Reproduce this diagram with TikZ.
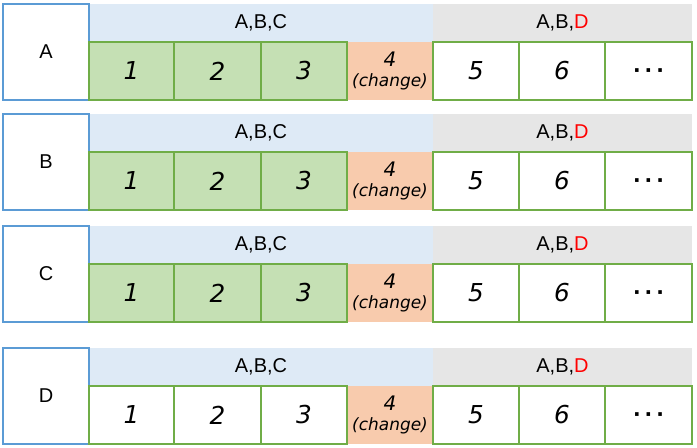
\documentclass[tikz,border=0pt]{standalone}
\usepackage{fontspec}
\setmainfont{Liberation Sans}
\newfontfamily\handfont{DejaVu Sans}
\definecolor{hblue}{HTML}{DEEAF6}
\definecolor{hgrey}{HTML}{E6E6E6}
\definecolor{cgreen}{HTML}{C5E0B4}
\definecolor{corange}{HTML}{F8CBAD}
\definecolor{bgreen}{HTML}{70AD47}
\definecolor{bblue}{HTML}{5B9BD5}
\newcommand\mydots{\vphantom{5}\smash{\raisebox{2pt}{\handfont\upshape\bfseries\fontsize{15}{18}\selectfont ·\hspace{3pt}·\hspace{3pt}·}}}
\tikzset{
  lab/.style={draw=bblue, line width=0.9pt, fill=white, inner sep=0pt, outer sep=0pt,
    minimum width=86*0.75pt, minimum height=96*0.75pt, font=\fontsize{15}{18}\selectfont},
  hdr/.style={inner sep=0pt, outer sep=0pt, minimum height=38*0.75pt,
    font=\fontsize{15}{18}\selectfont},
  cellbox/.style={draw=bgreen, line width=0.9pt, inner sep=0pt, outer sep=0pt,
    minimum height=58*0.75pt, font=\handfont\itshape\fontsize{18.5}{20}\selectfont},
  chg/.style={fill=corange, inner sep=0pt, outer sep=0pt, minimum width=86*0.75pt,
    minimum height=58*0.75pt, align=center, font=\handfont\itshape\fontsize{12.7}{15}\selectfont}
}
\newcommand\datarow[4]{%
  \node[hdr, fill=hblue, minimum width=344*0.75pt] (#1h1) at (261,{#2+19}) {A,B,C};
  \node[hdr, fill=hgrey, minimum width=259*0.75pt] (#1h2) at (562.5,{#2+19}) {A,B,\textcolor{red}{D}};
  \node[lab] (#1) at (46,{#2+48}) {#3};
  \node[chg] (#1c4) at (390,{#2+67}) {{\fontsize{15}{15}\selectfont 4}\\(change)};
  \foreach \i/\a/\b/\t in {1/89/174/1, 2/174/261/2, 3/261/347/3}
    \node[cellbox, fill=#4, minimum width={(\b-\a)*0.75pt}] (#1c\i) at ({(\a+\b)/2},{#2+67}) {\t};
  \foreach \i/\a/\b/\t in {5/433/519/5, 6/519/605/6, 7/605/692/{\mydots}}
    \node[cellbox, fill=white, minimum width={(\b-\a)*0.75pt}] (#1c\i) at ({(\a+\b)/2},{#2+67}) {\t};
}
\begin{document}
\begin{tikzpicture}[x=0.75pt,y=-0.75pt]
  \useasboundingbox[fill=white] (0,0) rectangle (697,447);
  \datarow{ra}{4}{A}{cgreen}
  \datarow{rb}{114}{B}{cgreen}
  \datarow{rc}{226}{C}{cgreen}
  \datarow{rd}{348}{D}{white}
\end{tikzpicture}
\end{document}
